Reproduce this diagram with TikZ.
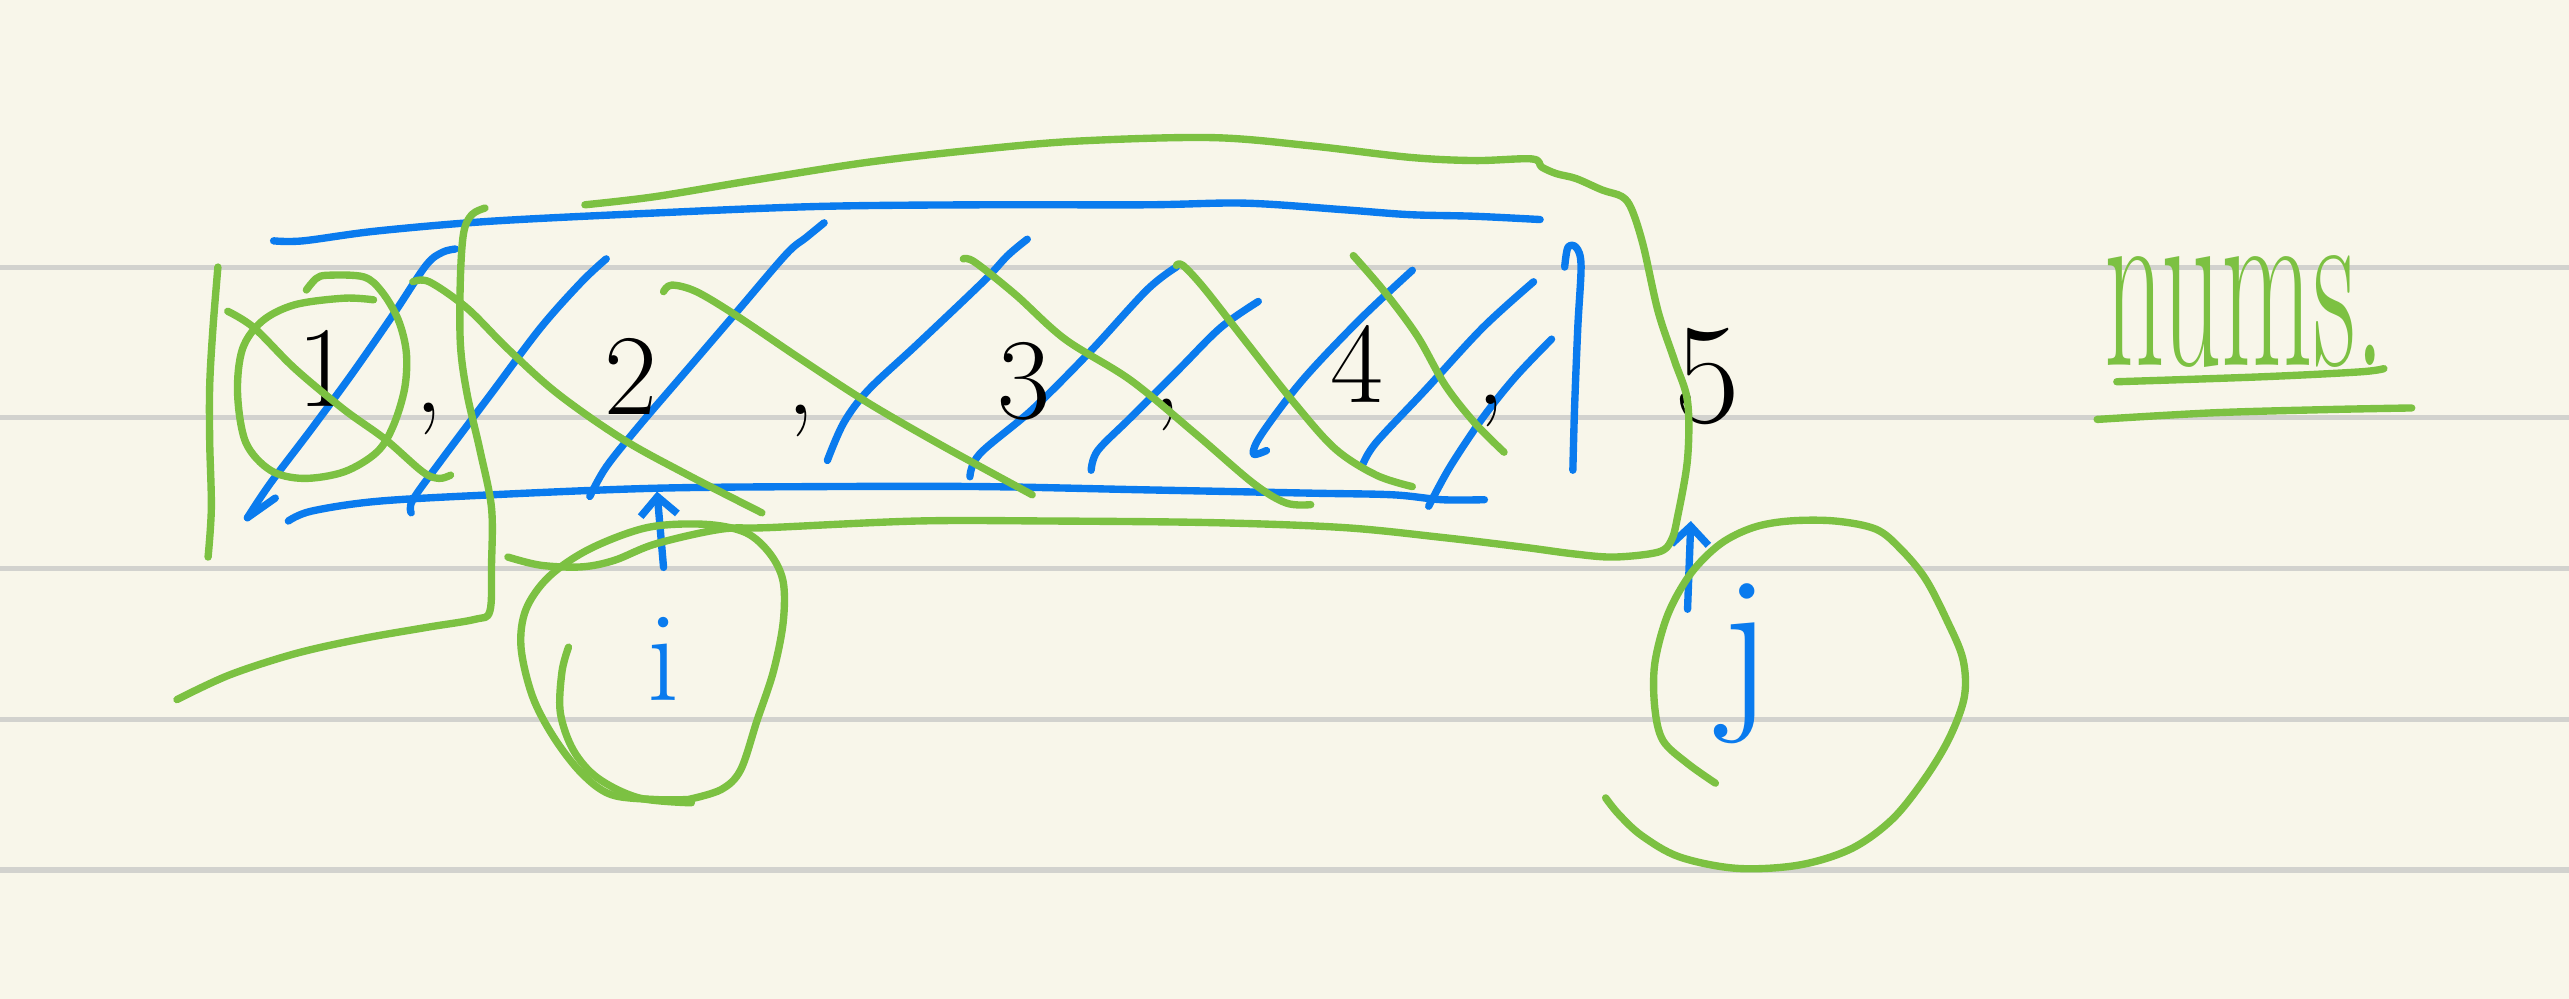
\documentclass[tikz,border=0pt]{standalone}
\usepackage{fontspec}
\usetikzlibrary{arrows.meta,positioning}
\definecolor{paper}{HTML}{F8F6EA}
\definecolor{ruling}{HTML}{D2D2CE}
\definecolor{penblue}{HTML}{0A7BEE}
\definecolor{pengreen}{HTML}{7CC142}
\newcommand{\penline}[2]{
  \draw[#1] plot[smooth,tension=0.55] coordinates {#2};
}
\newcommand{\hand}[1]{\fontsize{#1}{#1}\selectfont}

\begin{document}
\begin{tikzpicture}[x=0.25mm,y=-0.25mm,
    ink/.style={line width=3.2pt,line cap=round,line join=round},
    bink/.style={ink,penblue},
    gink/.style={ink,pengreen},
    digit/.style={inner sep=0pt,font=\hand{50pt}},
    barb/.style={-{Straight Barb[length=8pt,width=16pt]}}]

  % paper and ruling
  \fill[paper] (0,0) rectangle (1568,609.7);
  \useasboundingbox (0,0) rectangle (1568,609.7);
  \foreach \y in {163,255,347,439,531}
    \draw[ruling,line width=2.2pt] (0,\y) -- (1568,\y);

  % the array, blue
  \penline{bink}{(167,147) (185,147) (230,141) (300,135) (400,130) (500,126) (600,125) (700,125) (760,124) (820,128) (860,131) (900,132) (940,134)}
  \penline{bink}{(176,318) (190,312) (230,306) (300,302) (400,298) (500,297) (600,297) (700,299) (800,301) (850,302) (880,305) (906,305)}
  \penline{bink}{(955,163) (957,151) (962,151) (965,162) (963,200) (961,250) (960,287)}

  % hatching
  \draw[bink] (168,304) -- (151,316);
  \penline{bink}{(151,316) (165,295) (190,262) (215,228) (240,192) (260,162) (270,154) (278,152)}
  \penline{bink}{(251,313) (252,305) (270,280) (300,240) (330,200) (355,172) (370,158)}
  \penline{bink}{(360,303) (370,285) (390,260) (420,225) (450,190) (480,155) (492,145) (503,136)}
  \penline{bink}{(505,281) (515,258) (530,238) (560,210) (600,172) (615,156) (627,146)}
  \penline{bink}{(592,291) (598,277) (630,250) (665,215) (700,177) (718,163)}
  \penline{bink}{(666,287) (670,275) (690,255) (720,225) (745,200) (768,184)}
  \penline{bink}{(773,275) (765,277) (770,265) (795,232) (830,195) (862,165)}
  \penline{bink}{(832,283) (840,270) (870,238) (905,200) (936,172)}
  \penline{bink}{(872,309) (885,285) (905,255) (925,230) (947,207)}

  % numbers
  \node[digit] (one) at (198,225) {1};
  \node[digit] (c1) at (262,256) {,};
  \node[digit] (two) at (385,230) {2};
  \node[digit] (c2) at (489,257) {,};
  \node[digit] (three) at (625,233) {3};
  \node[digit] (c3) at (712,253) {,};
  \node[digit] (four) at (828,222) {4};
  \node[digit] (c4) at (910,251) {,};
  \node[digit,font=\hand{62pt}] (five) at (1042,230) {5};

  % i and j
  \node[inner sep=0pt,penblue,font=\hand{56pt}] (i) at (405,402) {i};
  \node[inner sep=0pt,penblue,font=\hand{82pt}] (j) at (1066,405) {j};
  \coordinate (cell2) at (401,300);
  \coordinate (cell5) at (1032,318);
  \draw[bink,barb] ([yshift=7.5mm]i.north) -- (cell2);
  \draw[bink,barb] ([xshift=-9mm,yshift=-4mm]j.north) -- (cell5);

  % green: crossed out
  \penline{gink}{(133,163) (130,200) (128,235) (128,270) (129,310) (127,340)}
  \penline{gink}{(228,183) (210,182) (180,186) (160,196) (148,213) (145,240) (150,270) (165,287) (185,292) (210,288) (230,276) (240,260) (247,237) (248,215) (243,195) (233,178) (222,169) (200,168) (193,170) (187,177)}
  \penline{gink}{(139,190) (155,200) (180,225) (210,250) (235,268) (258,288) (268,292) (275,290)}
  \penline{gink}{(296,127) (288,131) (283,142) (281,170) (281,210) (285,240) (293,275) (300,310) (300,345) (299,373) (290,378) (260,383) (220,390) (180,399) (140,412) (108,427)}
  \penline{gink}{(252,172) (262,172) (285,188) (310,213) (340,240) (380,268) (420,290) (465,313)}
  \penline{gink}{(405,178) (410,174) (425,178) (450,193) (490,220) (530,246) (575,272) (630,302)}
  \penline{gink}{(588,158) (595,160) (620,180) (650,207) (690,232) (730,265) (765,295) (785,307) (800,308)}
  \penline{gink}{(718,162) (722,162) (735,176) (760,208) (790,246) (815,274) (840,290) (862,297)}
  \penline{gink}{(826,156) (845,178) (865,205) (882,235) (900,258) (918,276)}

  % green: the rest
  \penline{gink}{(357,125) (400,120) (460,110) (530,99) (600,91) (660,86) (740,84) (800,89) (860,96) (900,98) (935,97) (941,102) (950,106) (962,109) (978,116) (990,120) (996,128) (1003,150) (1012,190) (1022,220) (1030,245) (1030,280) (1024,315) (1020,330) (1012,337) (985,340) (960,338) (930,334) (880,328) (820,322) (740,319) (640,318) (560,318) (470,322) (440,323) (400,332) (375,342) (355,346) (330,345) (310,340)}

  % circles round i and j
  \penline{gink}{(347,395) (343,410) (342,435) (350,458) (365,475) (390,487) (422,490)}
  \penline{gink}{(420,488) (440,482) (452,470) (462,440) (472,410) (478,380) (478,355) (470,338) (455,325) (430,320) (395,322) (360,335) (335,352) (321,372) (318,395) (325,425) (338,450) (355,472) (373,485) (400,488) (420,488)}
  \penline{gink}{(1047,478) (1030,466) (1015,452) (1010,432) (1010,405) (1018,375) (1032,350) (1050,332) (1070,322) (1092,318) (1120,318) (1145,323) (1160,335) (1175,353) (1188,378) (1198,402) (1199,425) (1190,450) (1175,475) (1155,500) (1130,518) (1098,528) (1060,530) (1025,523) (1002,510) (988,497) (980,487)}

  % label
  \node[inner sep=0pt,pengreen,font=\hand{54pt},xscale=0.95,yscale=2] (nums) at (1370,190) {nums.};
  \penline{gink}{(1292,233) (1380,230) (1440,227) (1455,225)}
  \penline{gink}{(1280,256) (1350,252) (1420,250) (1472,249)}

\end{tikzpicture}
\end{document}
